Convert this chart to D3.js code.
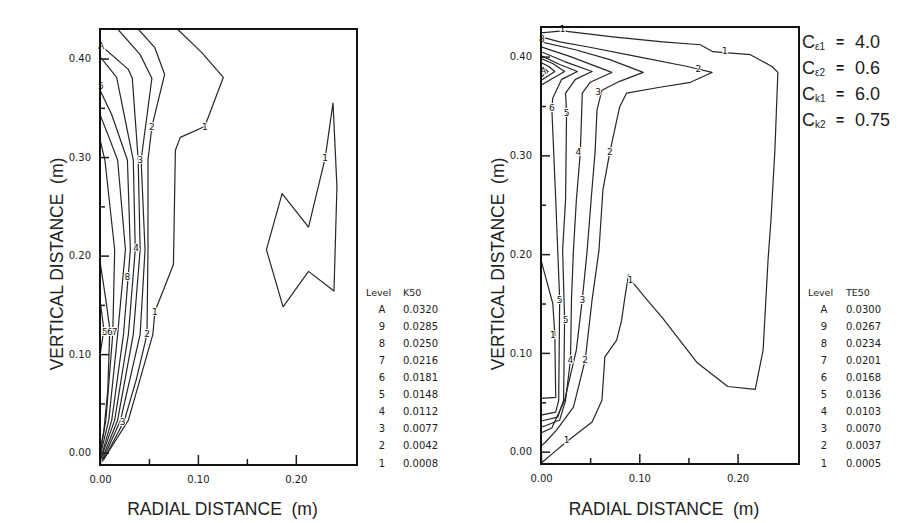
<!DOCTYPE html>
<html>
<head>
<meta charset="utf-8">
<script src="https://cdn.jsdelivr.net/npm/d3@7"></script>
<style>
body { margin: 0; background: #fff; }
svg { display: block; }
text { font-family: "DejaVu Sans", sans-serif; fill: #1c1c1c; }
.title { font-family: "Liberation Sans", Arial, sans-serif; font-size: 17.5px; fill: #222; }
.tick text { font-size: 10px; }
.lbl { font-size: 9px; fill: #111; stroke: #fff; stroke-width: 2px; paint-order: stroke; }
</style>
</head>
<body>
<svg id="chart" width="915" height="523"></svg>
<script>
// contour levels and values, read from the two legends
const levelNames = ['A', '9', '8', '7', '6', '5', '4', '3', '2', '1'];
const k50Values = [0.0320, 0.0285, 0.0250, 0.0216, 0.0181, 0.0148, 0.0112, 0.0077, 0.0042, 0.0008];
const te50Values = [0.0300, 0.0267, 0.0234, 0.0201, 0.0168, 0.0136, 0.0103, 0.0070, 0.0037, 0.0005];

const radialTicks = [0, 0.10, 0.20];
const radialMinor = [0.05, 0.15];
const verticalTicks = [0, 0.10, 0.20, 0.30, 0.40];
const verticalMinor = [0.05, 0.15, 0.25, 0.35];

const constNames = [['ε', '1'], ['ε', '2'], ['k', '1'], ['k', '2']];
const constValues = ['4.0', '0.6', '6.0', '0.75'];

// K50 contour lines, points are [radial m, vertical m]
const k50Lines = [
	[[0.079,0.430],[0.104,0.406],[0.126,0.381],[0.107,0.331],[0.082,0.320],[0.077,0.307],[0.075,0.191],[0.056,0.143],[0.054,0.120],[0.029,0.033],[0.010,0.003],[0.002,-0.009]],
	[[0.238,0.355],[0.230,0.299],[0.213,0.229],[0.186,0.263],[0.170,0.206],[0.187,0.148],[0.213,0.184],[0.239,0.164],[0.242,0.270],[0.238,0.355]],
	[[0.039,0.430],[0.056,0.411],[0.066,0.384],[0.053,0.331],[0.049,0.297],[0.049,0.206],[0.048,0.120],[0.037,0.074],[0.025,0.033],[0.004,-0.007]],
	[[0.018,0.430],[0.041,0.404],[0.053,0.380],[0.042,0.297],[0.046,0.206],[0.041,0.120],[0.021,0.033],[0.003,-0.007]],
	[[0,0.414],[0.029,0.389],[0.033,0.380],[0.039,0.297],[0.041,0.206],[0.034,0.120],[0.018,0.033],[0.002,-0.007]],
	[[0,0.402],[0.017,0.381],[0.034,0.297],[0.036,0.206],[0.029,0.120],[0.015,0.033],[0.001,-0.006]],
	[[0,0.368],[0.012,0.343],[0.028,0.297],[0.031,0.206],[0.024,0.120],[0.012,0.033],[0.001,-0.005]],
	[[0,0.343],[0.010,0.318],[0.018,0.297],[0.026,0.206],[0.018,0.120],[0.009,0.033],[0,-0.004]],
	[[0,0.318],[0.005,0.297],[0.015,0.206],[0.013,0.120],[0.006,0.033],[0,-0.002]],
	[[0,0.194],[0.006,0.155],[0.010,0.125],[0.008,0.064],[0.004,0.023],[0,0.001]],
	[[0,0.155],[0.004,0.125],[0,0.099]]
];
const k50Labels = [
	['1',0.107,0.331],['2',0.053,0.331],['3',0.041,0.297],['4',0.037,0.208],['8',0.028,0.178],
	['1',0.056,0.143],['5',0.005,0.122],['6',0.010,0.122],['7',0.015,0.122],['2',0.048,0.120],
	['3',0.023,0.031],['1',0.230,0.299],['A',0.001,0.413],['5',0.001,0.372]
];

// TE50 contour lines
const te50Lines = [
	[[0,0.424],[0.022,0.426],[0.073,0.420],[0.124,0.415],[0.162,0.412],[0.175,0.405],[0.187,0.404],[0.213,0.402],[0.235,0.390],[0.241,0.384],[0.238,0.306],[0.234,0.235],[0.231,0.194],[0.226,0.103],[0.218,0.063],[0.190,0.066],[0.159,0.090],[0.124,0.135],[0.106,0.156],[0.092,0.173],[0.089,0.179],[0.085,0.154],[0.082,0.133],[0.077,0.113],[0.065,0.096],[0.062,0.052],[0.052,0.030],[0.026,0.010],[0.014,0.000],[0.001,-0.011]],
	[[0,0.420],[0.019,0.415],[0.047,0.410],[0.098,0.400],[0.149,0.390],[0.174,0.384],[0.152,0.374],[0.121,0.369],[0.087,0.363],[0.080,0.349],[0.075,0.326],[0.070,0.303],[0.063,0.265],[0.059,0.204],[0.052,0.154],[0.045,0.093],[0.033,0.045],[0.016,0.022],[0.004,0.009],[0,0.006]],
	[[0,0.415],[0.035,0.407],[0.070,0.397],[0.104,0.384],[0.080,0.375],[0.062,0.366],[0.057,0.346],[0.055,0.303],[0.051,0.255],[0.047,0.204],[0.042,0.154],[0.036,0.103],[0.024,0.052],[0.011,0.024],[0,0.019]],
	[[0,0.410],[0.030,0.400],[0.072,0.384],[0.050,0.374],[0.042,0.363],[0.040,0.303],[0.036,0.255],[0.033,0.204],[0.031,0.154],[0.030,0.093],[0.025,0.052],[0.019,0.032],[0.004,0.026],[0,0.025]],
	[[0,0.405],[0.024,0.395],[0.052,0.385],[0.035,0.377],[0.025,0.363],[0.026,0.343],[0.025,0.255],[0.022,0.204],[0.024,0.134],[0.023,0.052],[0.017,0.035],[0,0.031]],
	[[0,0.401],[0.019,0.392],[0.037,0.385],[0.021,0.377],[0.012,0.358],[0.011,0.348],[0.015,0.255],[0.017,0.204],[0.019,0.154],[0.018,0.052],[0.015,0.040],[0,0.037]],
	[[0,0.398],[0.012,0.393],[0.024,0.385],[0.012,0.378],[0,0.371]],
	[[0,0.194],[0.012,0.150],[0.014,0.120],[0.015,0.055],[0,0.054]],
	[[0,0.394],[0.008,0.390],[0.014,0.385],[0.008,0.381],[0,0.376]],
	[[0,0.391],[0.007,0.385],[0,0.379]],
	[[0,0.388],[0.003,0.385],[0,0.382]]
];
const te50Labels = [
	['1',0.022,0.428],['1',0.187,0.406],['2',0.160,0.387],['3',0.058,0.364],['6',0.011,0.348],
	['5',0.026,0.343],['4',0.038,0.303],['2',0.070,0.303],['5',0.019,0.154],['3',0.042,0.154],
	['5',0.025,0.133],['4',0.030,0.093],['2',0.045,0.093],['1',0.026,0.012],['1',0.091,0.174],
	['1',0.012,0.118],['8',0.001,0.418],['A',0.002,0.385]
];

const svg = d3.select('#chart');
const gap = '\u00a0\u00a0';

function drawPanel(opt) {
	let x = d3.scaleLinear().domain([0, 0.2625]).range(opt.xr);
	let y = d3.scaleLinear().domain([-0.0125, 0.43]).range(opt.yr);
	let g = svg.append('g');

	g.append('clipPath').attr('id', opt.id).append('rect')
		.attr('x', opt.xr[0]).attr('y', opt.yr[1])
		.attr('width', opt.xr[1] - opt.xr[0]).attr('height', opt.yr[0] - opt.yr[1]);

	let line = d3.line().x((d) => x(d[0])).y((d) => y(d[1])).curve(d3.curveLinear);
	g.append('g').attr('clip-path', 'url(#' + opt.id + ')')
		.selectAll('path').data(opt.lines).join('path')
		.attr('d', line)
		.attr('fill', 'none')
		.attr('stroke', '#262626')
		.attr('stroke-width', 1.2)
		.attr('stroke-linejoin', 'round');

	g.selectAll('text.lbl').data(opt.labels).join('text')
		.attr('class', 'lbl')
		.attr('x', (d) => x(d[1]))
		.attr('y', (d) => y(d[2]))
		.attr('text-anchor', 'middle')
		.attr('dominant-baseline', 'central')
		.text((d) => d[0]);

	// axes, ticks pointing into the frame
	let bottom = g.append('g').attr('transform', 'translate(0,' + opt.yr[0] + ')');
	bottom.call(d3.axisBottom(x).tickValues(radialTicks).tickSize(-10).tickPadding(11).tickFormat(d3.format('.2f')));
	let bottomMinor = g.append('g').attr('transform', 'translate(0,' + opt.yr[0] + ')');
	bottomMinor.call(d3.axisBottom(x).tickValues(radialMinor).tickSize(-6).tickFormat(''));
	let left = g.append('g').attr('transform', 'translate(' + opt.xr[0] + ',0)');
	left.call(d3.axisLeft(y).tickValues(verticalTicks).tickSize(-9).tickPadding(9).tickFormat(d3.format('.2f')));
	let leftMinor = g.append('g').attr('transform', 'translate(' + opt.xr[0] + ',0)');
	leftMinor.call(d3.axisLeft(y).tickValues(verticalMinor).tickSize(-5).tickFormat(''));
	g.selectAll('.domain').remove();
	g.selectAll('.tick line').attr('stroke', '#1c1c1c').attr('stroke-width', 1.5);
	g.selectAll('.tick text').attr('fill', '#1c1c1c');

	g.append('rect')
		.attr('x', opt.xr[0]).attr('y', opt.yr[1])
		.attr('width', opt.xr[1] - opt.xr[0]).attr('height', opt.yr[0] - opt.yr[1])
		.attr('fill', 'none').attr('stroke', '#111').attr('stroke-width', 2);

	g.append('text').attr('class', 'title')
		.attr('x', (opt.xr[0] + opt.xr[1]) / 2 - 6).attr('y', 509)
		.attr('text-anchor', 'middle').attr('dominant-baseline', 'central')
		.text('RADIAL DISTANCE' + gap + '(m)');
	g.append('text').attr('class', 'title')
		.attr('transform', 'translate(' + opt.vx + ',264) rotate(-90)')
		.attr('text-anchor', 'middle').attr('dominant-baseline', 'central')
		.text('VERTICAL DISTANCE' + gap + '(m)');

	// legend
	let leg = g.append('g').attr('font-size', 10);
	leg.append('text').attr('x', opt.lx).attr('y', 292).attr('dominant-baseline', 'central').attr('font-size', 9.5).text('Level');
	leg.append('text').attr('x', opt.vx2).attr('y', 292).attr('dominant-baseline', 'central').attr('font-size', 9.5).text(opt.name);
	levelNames.forEach((n, i) => {
		leg.append('text').attr('x', opt.lx + 16).attr('y', 292 + 17.1 * (i + 1))
			.attr('text-anchor', 'middle').attr('dominant-baseline', 'central').text(n);
		leg.append('text').attr('x', opt.vx2).attr('y', 292 + 17.1 * (i + 1))
			.attr('dominant-baseline', 'central').text(d3.format('.4f')(opt.values[i]));
	});
}

drawPanel({ id: 'clipK', xr: [100, 357], yr: [465, 29], vx: 57, lx: 366, vx2: 403, name: 'K50', values: k50Values, lines: k50Lines, labels: k50Labels });
drawPanel({ id: 'clipT', xr: [541, 799], yr: [464, 27], vx: 498, lx: 808, vx2: 846, name: 'TE50', values: te50Values, lines: te50Lines, labels: te50Labels });

// model constants at the top right
let cg = svg.append('g');
constNames.forEach((c, i) => {
	let yb = 48 + 26 * i;
	cg.append('text').attr('x', 802).attr('y', yb).attr('font-size', 18).style('font-family', '"Liberation Sans", Arial, sans-serif').text('C');
	cg.append('text').attr('x', 815).attr('y', yb + 2).attr('font-size', 10).style('font-family', '"Liberation Sans", Arial, sans-serif').text(c[0] + c[1]);
	cg.append('text').attr('x', 836).attr('y', yb - 1).attr('font-size', 14).attr('font-weight', 'bold').style('font-family', '"Liberation Sans", Arial, sans-serif').text('=');
	cg.append('text').attr('x', 855).attr('y', yb).attr('font-size', 18).style('font-family', '"Liberation Sans", Arial, sans-serif').text(constValues[i]);
});
</script>
</body>
</html>
